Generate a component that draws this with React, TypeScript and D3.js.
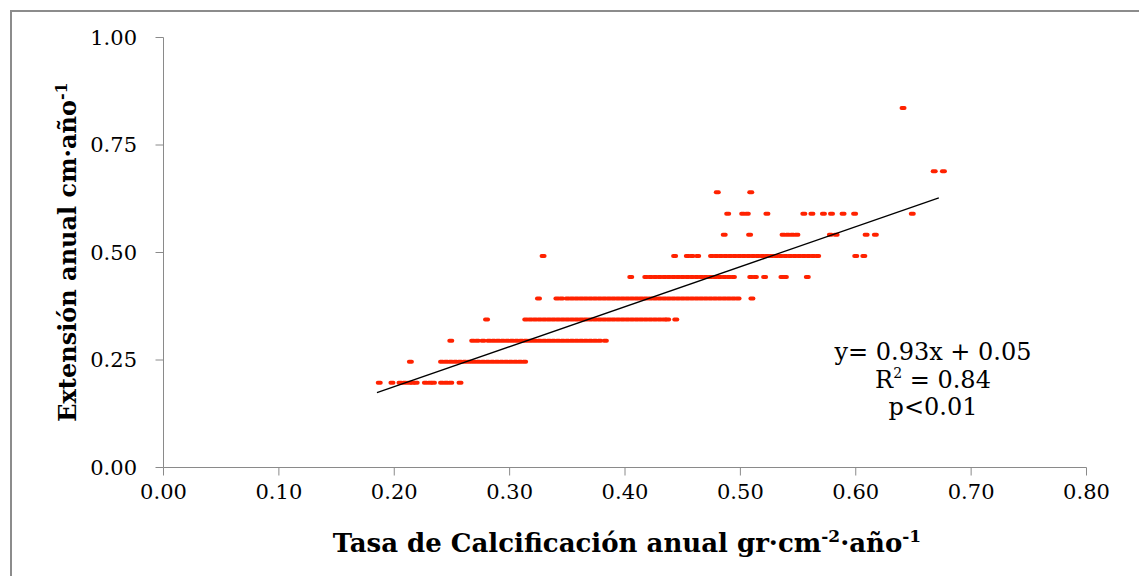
import React from 'react';
import * as d3 from 'd3';

// Axis ticks
const xTicks = [0, 0.1, 0.2, 0.3, 0.4, 0.5, 0.6, 0.7, 0.8];
const yTicks = [0, 0.25, 0.5, 0.75, 1.0];

// Extension levels (y) and calcification values (x) observed at each level
const levelY = [0.197, 0.246, 0.295, 0.344, 0.393, 0.443, 0.492, 0.541, 0.59, 0.64, 0.689, 0.836];

const xAt0197 = [0.187, 0.198, 0.205, 0.209, 0.213, 0.216, 0.219, 0.227, 0.231, 0.234, 0.241, 0.245, 0.249, 0.257];
const xAt0246 = [0.214, 0.241, 0.245, 0.249, 0.253, 0.257, 0.261, 0.265, 0.269, 0.273, 0.277, 0.281, 0.285, 0.289, 0.293, 0.297, 0.301, 0.305, 0.309, 0.313];
const xAt0295 = [0.249, 0.268, 0.272, 0.277, 0.282, 0.286, 0.29, 0.294, 0.298, 0.302, 0.306, 0.31, 0.314, 0.318, 0.322, 0.326, 0.33, 0.334, 0.338, 0.342, 0.346, 0.35, 0.354, 0.358, 0.362, 0.366, 0.37, 0.374, 0.378, 0.383];
const xAt0344 = [0.28, 0.314, 0.318, 0.322, 0.326, 0.33, 0.334, 0.338, 0.342, 0.346, 0.35, 0.354, 0.358, 0.362, 0.366, 0.37, 0.374, 0.378, 0.382, 0.386, 0.39, 0.394, 0.398, 0.402, 0.406, 0.41, 0.414, 0.418, 0.422, 0.426, 0.43, 0.434, 0.437, 0.444];
const xAt0393 = [0.325, 0.341, 0.345, 0.35, 0.354, 0.358, 0.362, 0.366, 0.37, 0.374, 0.378, 0.382, 0.386, 0.39, 0.394, 0.398, 0.402, 0.406, 0.41, 0.414, 0.418, 0.422, 0.426, 0.43, 0.434, 0.438, 0.442, 0.446, 0.45, 0.454, 0.458, 0.462, 0.466, 0.47, 0.474, 0.478, 0.482, 0.486, 0.49, 0.494, 0.498, 0.51];
const xAt0443 = [0.405, 0.418, 0.422, 0.426, 0.43, 0.434, 0.438, 0.442, 0.446, 0.45, 0.454, 0.458, 0.462, 0.466, 0.47, 0.474, 0.478, 0.482, 0.486, 0.49, 0.494, 0.509, 0.513, 0.521, 0.536, 0.539, 0.558];
const xAt0492 = [0.329, 0.443, 0.454, 0.458, 0.463, 0.475, 0.479, 0.483, 0.487, 0.491, 0.495, 0.499, 0.503, 0.507, 0.511, 0.515, 0.519, 0.523, 0.527, 0.531, 0.535, 0.539, 0.543, 0.547, 0.551, 0.555, 0.559, 0.563, 0.567, 0.6, 0.607];
const xAt0541 = [0.486, 0.508, 0.537, 0.541, 0.545, 0.549, 0.578, 0.583, 0.609, 0.617];
const xAt0590 = [0.489, 0.502, 0.506, 0.523, 0.555, 0.562, 0.572, 0.579, 0.589, 0.599, 0.649];
const xAt0640 = [0.48, 0.509];
const xAt0689 = [0.668, 0.676];
const xAt0836 = [0.641];

const xByLevel = [xAt0197, xAt0246, xAt0295, xAt0344, xAt0393, xAt0443, xAt0492, xAt0541, xAt0590, xAt0640, xAt0689, xAt0836];

// Fitted trend line end points
const fitX = [0.185, 0.672];
const fitY = [0.174, 0.627];

const statLines = ['y= 0.93x + 0.05', 'R', 'p<0.01'];

const W = 1139;
const H = 576;
const SERIF = '"DejaVu Serif", serif';

export default function App() {
  const x = d3.scaleLinear().domain([0, 0.8]).range([163.5, 1086.5]);
  const y = d3.scaleLinear().domain([0, 1]).range([467.5, 37.5]);

  const points: { x: number; y: number }[] = [];
  levelY.forEach((lv, i) => {
    xByLevel[i].forEach((xv) => points.push({ x: xv, y: lv }));
  });

  const line = d3
    .line<number>()
    .x((_, i) => x(fitX[i]))
    .y((_, i) => y(fitY[i]));

  const axisColor = '#8a8a8a';

  return (
    <svg width={W} height={H} style={{ position: 'absolute', left: 0, top: 0, background: '#fff' }}>
      <rect x={0} y={0} width={W} height={H} fill="#fff" />
      <rect x={11} y={11} width={W + 20} height={H + 20} fill="none" stroke="#8c8c8c" strokeWidth={2} />

      {/* Y axis */}
      <line x1={x(0)} x2={x(0)} y1={y(1)} y2={y(0)} stroke={axisColor} strokeWidth={1} />
      {yTicks.map((t) => (
        <g key={'y' + t}>
          <line x1={x(0) - 8} x2={x(0)} y1={y(t)} y2={y(t)} stroke={axisColor} strokeWidth={1} />
          <text x={137} y={y(t) + 7} textAnchor="end" fontFamily={SERIF} fontSize={21} fill="#000">
            {t.toFixed(2)}
          </text>
        </g>
      ))}

      {/* X axis */}
      <line x1={x(0)} x2={x(0.8)} y1={y(0)} y2={y(0)} stroke={axisColor} strokeWidth={1} />
      {xTicks.map((t) => (
        <g key={'x' + t}>
          <line x1={x(t)} x2={x(t)} y1={y(0)} y2={y(0) + 8} stroke={axisColor} strokeWidth={1} />
          <text x={x(t)} y={499} textAnchor="middle" fontFamily={SERIF} fontSize={21} fill="#000">
            {t.toFixed(2)}
          </text>
        </g>
      ))}

      {/* Points */}
      {points.map((p, i) => (
        <rect
          key={i}
          x={x(p.x) - 3.5}
          y={y(p.y) - 2}
          width={7}
          height={4}
          rx={2}
          fill="#ff2200"
        />
      ))}

      {/* Trend line */}
      <path d={line([0, 1]) || ''} stroke="#000" strokeWidth={1.3} fill="none" />

      {/* Stats */}
      <g fontFamily={SERIF} fontSize={24} fill="#000" textAnchor="middle">
        <text x={933} y={360}>{statLines[0]}</text>
        <text x={933} y={388}>
          {statLines[1]}
          <tspan fontSize={14} dy={-10}>2</tspan>
          <tspan dy={10}> = 0.84</tspan>
        </text>
        <text x={933} y={415}>{statLines[2]}</text>
      </g>

      {/* X title */}
      <text x={627} y={552} textAnchor="middle" fontFamily={SERIF} fontWeight="bold" fontSize={26} fill="#000">
        Tasa de Calcificación anual gr·cm
        <tspan fontSize={17} dy={-10}>-2</tspan>
        <tspan dy={10}>·año</tspan>
        <tspan fontSize={17} dy={-10}>-1</tspan>
      </text>

      {/* Y title */}
      <text
        transform={`translate(76, 252) rotate(-90)`}
        textAnchor="middle"
        fontFamily={SERIF}
        fontWeight="bold"
        fontSize={24}
        fill="#000"
      >
        Extensión anual cm·año
        <tspan fontSize={16} dy={-9}>-1</tspan>
      </text>
    </svg>
  );
}
